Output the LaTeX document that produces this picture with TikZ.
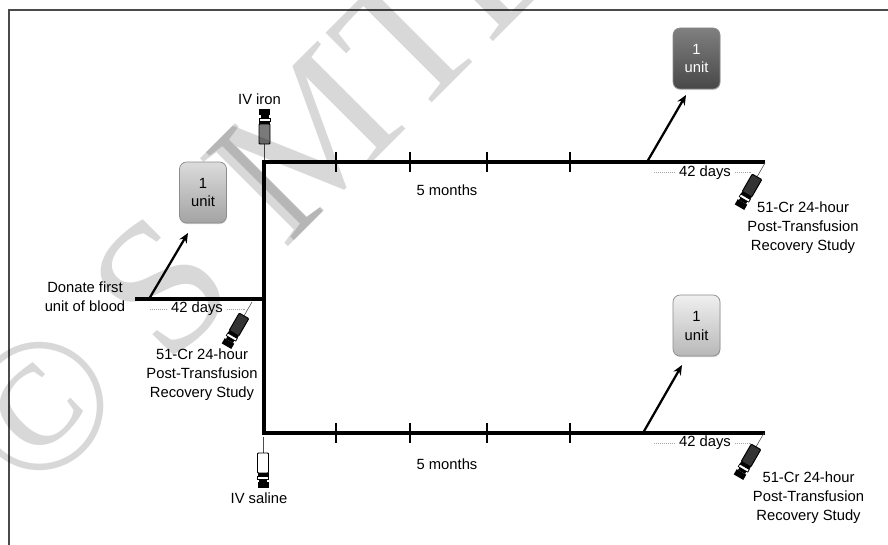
\documentclass[tikz,border=0pt]{standalone}
\usepackage{fontspec}
\setmainfont{Liberation Sans}
\newfontfamily\markfont{Liberation Serif}
\usetikzlibrary{positioning, arrows.meta, shadows}
\definecolor{frameGrey}{HTML}{4A4A4A}
\definecolor{markGrey}{HTML}{D8D8D8}
\definecolor{ironGrey}{HTML}{7A7A7A}
\definecolor{cellGrey}{HTML}{333333}

\tikzset{
  pics/syringe/.style={code={
    \draw[line width=0.4pt, black!70] (0,0) -- (0,-16);
    \draw[black, line width=0.7pt, fill=#1, rounded corners=0.6pt] (-5.5,-16) rectangle (5.5,-36);
    \fill[black] (-5.5,-36) rectangle (5.5,-39);
    \draw[black, line width=0.5pt, fill=white] (-5.5,-39) rectangle (5.5,-42);
    \fill[black] (-4,-42) rectangle (4,-45);
    \fill[black] (-5.5,-45) rectangle (5.5,-51);
  }}
}

\begin{document}
\begin{tikzpicture}[x=0.025cm, y=-0.025cm, font=\fontsize{10.5}{13.5}\selectfont,
  mainline/.style={black, line width=2.3pt},
  tick/.style={black, line width=1.5pt},
  dotline/.style={black!35, line width=0.4pt, densely dotted},
  drawarrow/.style={black, line width=1.6pt, -{Stealth[length=7pt, width=6pt]}},
  unitbox/.style={draw=black!45, line width=0.5pt, rounded corners=5pt, minimum width=47*0.025cm,
    minimum height=61*0.025cm, align=center, inner sep=0pt, drop shadow={opacity=0.3, shadow xshift=0.3pt, shadow yshift=-0.8pt}},
  tag/.style={align=center, inner sep=0pt},
  stampmark/.style={text=markGrey, rotate=45, inner sep=0pt, font=\fontsize{135}{135}\markfont}]

\useasboundingbox (0,0) rectangle (888,545);
\fill[white] (0,0) rectangle (888,545);

\draw[frameGrey, line width=0.9pt] (888,10) -- (9,10) -- (9,545);

\coordinate (donateStart) at (135,299);
\coordinate (donateJoin) at (264,299);
\coordinate (cornerTop) at (264,162);
\coordinate (cornerBottom) at (264,433);
\coordinate (endTop) at (765,162);
\coordinate (endBottom) at (765,433);
\coordinate (armFirst) at (149,299);
\coordinate (armTop) at (647,162);
\coordinate (armBottom) at (643,433);
\coordinate (tipFirst) at (188,233);
\coordinate (tipTop) at (686,95);
\coordinate (tipBottom) at (682,365);

\node[unitbox, top color=black!14, bottom color=black!36, text=black] (unitFirst) at (203,192.5) {1\\unit};
\node[unitbox, top color=black!50, bottom color=black!72, text=white] (unitTop) at (696.5,58.5) {1\\unit};
\node[unitbox, top color=black!6, bottom color=black!28, text=black] (unitBottom) at (696.5,325.5) {1\\unit};

\draw[dotline] (150,309) -- (245,309);
\draw[dotline] (654,172) -- (751,172);
\draw[dotline] (654,443) -- (751,443);

\draw[mainline] (donateStart) -- (donateJoin);
\draw[mainline] (endTop) -- (cornerTop) -- (cornerBottom) -- (endBottom);

\draw[tick] (336,152) -- (336,172);
\draw[tick] (410,152) -- (410,172);
\draw[tick] (487,152) -- (487,172);
\draw[tick] (570,152) -- (570,172);
\draw[tick] (336,423) -- (336,443);
\draw[tick] (410,423) -- (410,443);
\draw[tick] (487,423) -- (487,443);
\draw[tick] (570,423) -- (570,443);

\draw[drawarrow] (armFirst) -- (tipFirst);
\draw[drawarrow] (armTop) -- (tipTop);
\draw[drawarrow] (armBottom) -- (tipBottom);

\pic (ironNeedle) at (264.5,160) {syringe=ironGrey};
\pic[rotate=180] (salineNeedle) at (263,437) {syringe=white};
\pic[rotate=150] (cellFirst) at (252,302) {syringe=cellGrey};
\pic[rotate=150] (cellTop) at (765,163) {syringe=cellGrey};
\pic[rotate=150] (cellBottom) at (764,433) {syringe=cellGrey};

\node[tag] (ironLabel) at (259.5,99) {IV iron};
\node[tag] (salineLabel) at (259,498) {IV saline};
\node[tag] (donateLabel) at (85,297) {Donate first\\unit of blood};
\node[tag, fill=white, inner xsep=2pt] (daysFirst) at (197,309) {42 days};
\node[tag, fill=white, inner xsep=2pt] (daysTop) at (705,173) {42 days};
\node[tag, fill=white, inner xsep=2pt] (daysBottom) at (705,443) {42 days};
\node[tag] (monthsTop) at (447,190) {5 months};
\node[tag] (monthsBottom) at (447,464) {5 months};
\node[tag] (studyFirst) at (202,375) {51-Cr 24-hour\\Post-Transfusion\\Recovery Study};
\node[tag] (studyTop) at (803,228) {51-Cr 24-hour\\Post-Transfusion\\Recovery Study};
\node[tag] (studyBottom) at (808.5,498) {51-Cr 24-hour\\Post-Transfusion\\Recovery Study};

\begin{scope}[blend mode=multiply]
\node[stampmark] (stampCircle) at (40,407) {©};
\node[stampmark, anchor=base] (stampS) at (205,330) {S};
\node[stampmark, anchor=base] (stampI) at (305.5,229.5) {I};
\node[stampmark, anchor=base] (stampM) at (350,185) {M};
\node[stampmark, anchor=base] (stampT) at (452,83) {T};
\node[stampmark, anchor=base west] (stampL) at (489,46) {L};
\end{scope}

\end{tikzpicture}
\end{document}
